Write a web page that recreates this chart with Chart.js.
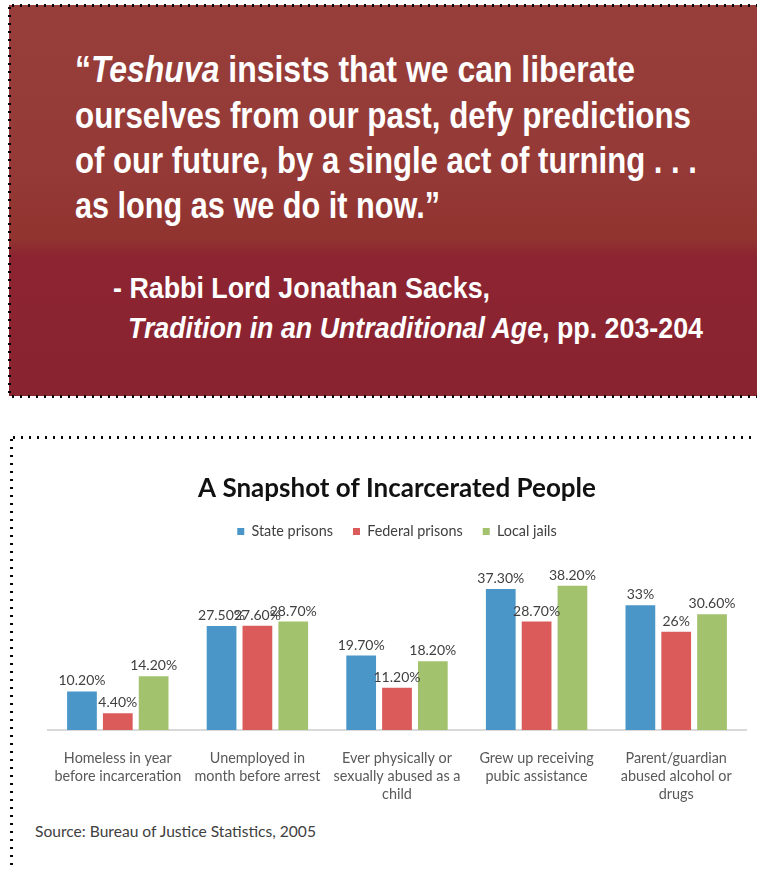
<!DOCTYPE html>
<html>
<head>
<meta charset="utf-8">
<script src="https://cdn.jsdelivr.net/npm/chart.js@4.4.1/dist/chart.umd.min.js"></script>
<style>
  html, body { margin: 0; padding: 0; background: #fff; }
  body { width: 757px; height: 869px; position: relative; overflow: hidden; }
  #quoteBox {
    position: absolute; left: 9px; top: 5px; width: 760px; height: 391px;
    background: linear-gradient(to bottom, #973e3b 0%, #943936 45%, #91332f 60%, #8c2531 64%, #8a2330 100%);
  }
  .dotH { position: absolute; height: 3px;
    background-image: radial-gradient(circle, #000 1.1px, rgba(0,0,0,0) 1.5px);
    background-size: 8px 3px; background-repeat: repeat-x; }
  .dotV { position: absolute; width: 3px;
    background-image: radial-gradient(circle, #000 1.1px, rgba(0,0,0,0) 1.5px);
    background-size: 3px 8px; background-repeat: repeat-y; }
  .ql { position: absolute; color: #fff; font-family: "Liberation Sans", Arial, sans-serif;
    font-weight: bold; white-space: nowrap; transform-origin: 0 0; line-height: 1; }
  .q { font-size: 37px; }
  .a { font-size: 30px; }
  #chartWrap { position: absolute; left: 12px; top: 440px; width: 745px; height: 380px; }
  #source { position: absolute; left: 35px; top: 822px; font-family: Lato, "Open Sans", sans-serif;
    font-size: 15.6px; color: #404040; white-space: nowrap; }
</style>
</head>
<body>
<div id="quoteBox"></div>
<div class="dotH" style="left:9px; top:4px; width:748px;"></div>
<div class="dotV" style="left:8px; top:4px; height:393px;"></div>
<div class="dotH" style="left:9px; top:395px; width:748px;"></div>

<div class="ql q" data-w="560" style="left:75px; top:51px;">“<i>Teshuva</i> insists that we can liberate</div>
<div class="ql q" data-w="616" style="left:75px; top:97px;">ourselves from our past, defy predictions</div>
<div class="ql q" data-w="622" style="left:75px; top:142px;">of our future, by a single act of turning . . .</div>
<div class="ql q" data-w="365" style="left:75px; top:187px;">as long as we do it now.”</div>
<div class="ql a" data-w="377" style="left:113px; top:273px;">- Rabbi Lord Jonathan Sacks,</div>
<div class="ql a" data-w="575" style="left:128px; top:313px;"><i>Tradition in an Untraditional Age</i>, pp. 203-204</div>

<div class="dotH" style="left:10px; top:436px; width:747px;"></div>
<div class="dotV" style="left:10px; top:436px; height:433px;"></div>

<div id="chartWrap"><canvas id="c"></canvas></div>
<div id="source">Source: Bureau of Justice Statistics, 2005</div>

<script>
// ---- data ----
const chartTitle = "A Snapshot of Incarcerated People";
const categories = [
  ["Homeless in year", "before incarceration"],
  ["Unemployed in", "month before arrest"],
  ["Ever physically or", "sexually abused as a", "child"],
  ["Grew up receiving", "pubic assistance"],
  ["Parent/guardian", "abused alcohol or", "drugs"]
];
const seriesNames = ["State prisons", "Federal prisons", "Local jails"];
const statePrisons   = [10.2, 27.5, 19.7, 37.3, 33];
const federalPrisons = [4.4, 27.6, 11.2, 28.7, 26];
const localJails     = [14.2, 28.7, 18.2, 38.2, 30.6];
const seriesColors = ["#4a96c8", "#db5b5b", "#a3c26d"];

// fit quote lines to their measured widths
document.querySelectorAll('.ql').forEach(el => {
  const w = el.getBoundingClientRect().width;
  const target = parseFloat(el.dataset.w);
  el.style.transform = 'scaleX(' + (target / w) + ')';
});

function fmt(v) { return Number.isInteger(v) ? v + '%' : v.toFixed(2) + '%'; }

const valueLabels = {
  id: 'valueLabels',
  afterDatasetsDraw(chart) {
    const ctx = chart.ctx;
    ctx.save();
    ctx.font = '14px Lato, "Open Sans", sans-serif';
    ctx.fillStyle = '#404040';
    ctx.textAlign = 'center';
    ctx.textBaseline = 'alphabetic';
    chart.data.datasets.forEach((ds, di) => {
      const meta = chart.getDatasetMeta(di);
      meta.data.forEach((bar, i) => {
        ctx.fillText(fmt(ds.data[i]), bar.x, bar.y - 6);
      });
    });
    ctx.restore();
  }
};

const seriesData = [statePrisons, federalPrisons, localJails];
new Chart(document.getElementById('c'), {
  type: 'bar',
  data: {
    labels: categories,
    datasets: seriesNames.map((n, i) => ({
      label: n,
      data: seriesData[i],
      backgroundColor: seriesColors[i],
      borderWidth: 0,
      categoryPercentage: 0.77,
      barPercentage: 0.83
    }))
  },
  options: {
    responsive: true,
    maintainAspectRatio: false,
    animation: false,
    layout: { padding: { left: 36, right: 11, top: 23, bottom: 6 } },
    plugins: {
      title: {
        display: true, text: chartTitle, color: '#111',
        font: { family: 'Lato, "Open Sans", sans-serif', size: 26, weight: 'bold' },
        padding: { top: 10, bottom: 0 }
      },
      legend: {
        display: true,
        labels: {
          boxWidth: 7, boxHeight: 7, padding: 20, color: '#404040',
          font: { family: 'Lato, "Open Sans", sans-serif', size: 14.4 }
        }
      },
      tooltip: { enabled: false }
    },
    scales: {
      x: {
        grid: { display: false },
        border: { display: true, color: '#d9d9d9', width: 2 },
        ticks: {
          color: '#595959', padding: 11, maxRotation: 0, autoSkip: false,
          font: { family: 'Lato, "Open Sans", sans-serif', size: 14.4, lineHeight: 1.25 }
        }
      },
      y: { display: false, min: 0, max: 48 }
    }
  },
  plugins: [valueLabels]
});
</script>
</body>
</html>
